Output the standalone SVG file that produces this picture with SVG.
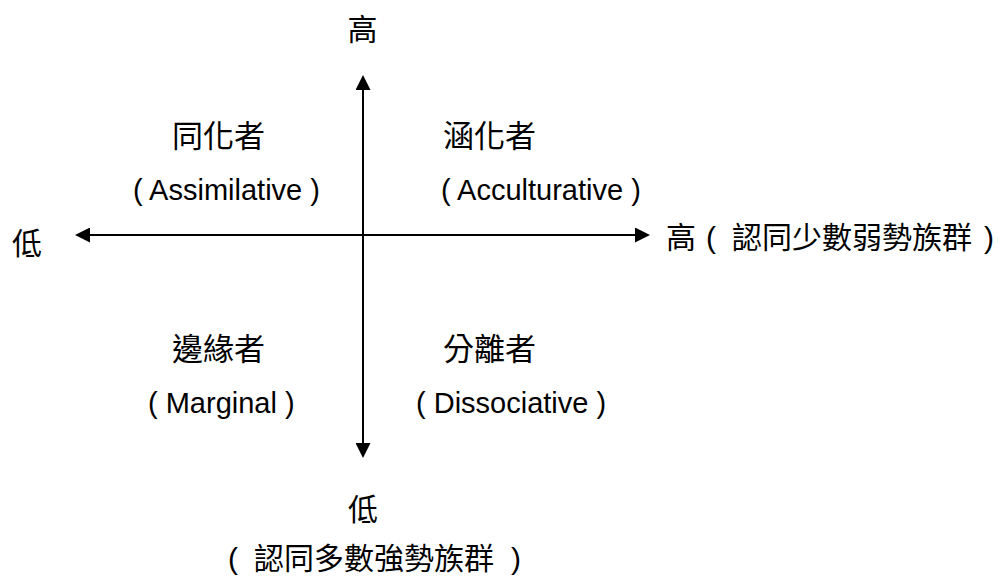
<svg xmlns="http://www.w3.org/2000/svg" width="1002" height="577" viewBox="0 0 1002 577">
  <style>
    .t { font-family: "Liberation Sans", "Noto Sans CJK TC", sans-serif; fill: #000; }
    .cjk { font-size: 30px; }
    .title { font-size: 31px; text-anchor: middle; }
    .en { font-size: 29px; }
    .axis { stroke: #000; stroke-width: 2; fill: none; marker-start: url(#arrow); marker-end: url(#arrow); }
  </style>
  <defs>
    <marker id="arrow" markerUnits="userSpaceOnUse" markerWidth="15" markerHeight="15" refX="10" refY="7.5" orient="auto-start-reverse" viewBox="0 0 15 15">
      <path d="M0,0 L15,7.5 L0,15 z" fill="#000"/>
    </marker>
  </defs>
  <rect width="1002" height="577" fill="#fff"/>
  <g id="connectors">
    <line class="axis" x1="363" y1="80" x2="363" y2="453"/>
    <line class="axis" x1="80" y1="235" x2="645" y2="235"/>
  </g>
  <g id="top-label"><text class="t cjk" x="362.5" y="40" text-anchor="middle">高</text></g>
  <g id="left-label"><text class="t cjk" x="27" y="254" text-anchor="middle">低</text></g>
  <g id="right-label"><text class="t cjk" x="666" y="248">高<tspan x="706">( </tspan><tspan x="732">認同少數弱勢族群 </tspan><tspan x="984">)</tspan></text></g>
  <g id="bottom-label">
    <text class="t cjk" x="363" y="520" text-anchor="middle">低</text>
    <text class="t cjk" x="228" y="569">( <tspan x="254">認同多數強勢族群 </tspan><tspan x="511">)</tspan></text>
  </g>
  <g id="assimilative">
    <text class="t title" x="218.5" y="147">同化者</text>
    <text class="t en" x="133" y="200">( Assimilative )</text>
  </g>
  <g id="acculturative">
    <text class="t title" x="489.5" y="147">涵化者</text>
    <text class="t en" x="441" y="200">( Acculturative )</text>
  </g>
  <g id="marginal">
    <text class="t title" x="218.5" y="360">邊緣者</text>
    <text class="t en" x="148" y="413">( Marginal )</text>
  </g>
  <g id="dissociative">
    <text class="t title" x="489.5" y="360">分離者</text>
    <text class="t en" x="416" y="413">( Dissociative )</text>
  </g>
</svg>
